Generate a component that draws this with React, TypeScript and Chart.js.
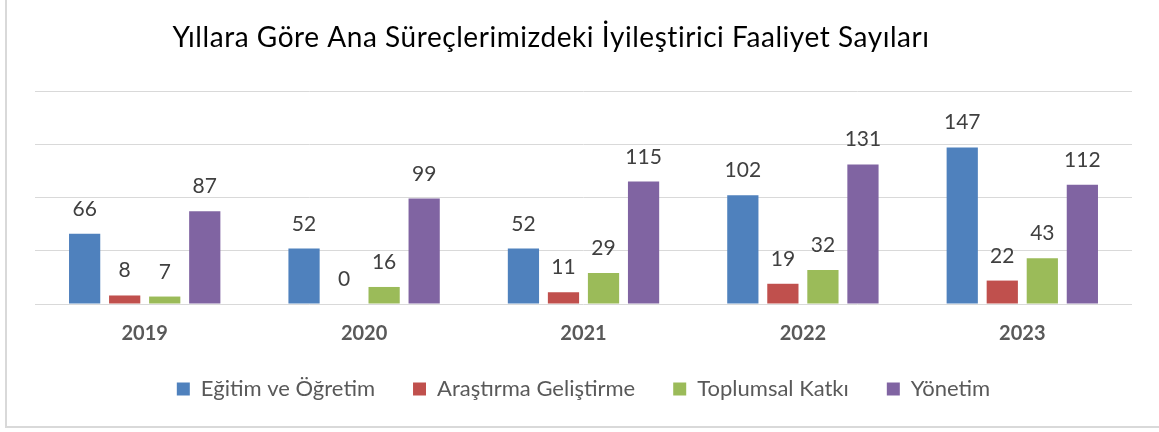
import React, { useEffect, useRef } from "react";
import { Chart, registerables } from "chart.js";

Chart.register(...registerables);

const categories = ["2019", "2020", "2021", "2022", "2023"];
const seriesNames = ["Eğitim ve Öğretim", "Araştırma Geliştirme", "Toplumsal Katkı", "Yönetim"];
const egitim = [66, 52, 52, 102, 147];
const arastirma = [8, 0, 11, 19, 22];
const toplumsal = [7, 16, 29, 32, 43];
const yonetim = [87, 99, 115, 131, 112];
const seriesColors = ["#4F81BD", "#C0504D", "#9BBB59", "#8064A2"];
const chartTitle = "Yıllara Göre Ana Süreçlerimizdeki İyileştirici Faaliyet Sayıları";

const FONT = "Lato";

const titlePlugin = {
  id: "customTitle",
  afterDraw(chart: any) {
    const ctx = chart.ctx;
    ctx.save();
    ctx.font = `28px ${FONT}`;
    try {
      (ctx as any).letterSpacing = "0.55px";
    } catch (e) {}
    ctx.fillStyle = "#000000";
    ctx.textAlign = "center";
    ctx.textBaseline = "alphabetic";
    ctx.fillText(chartTitle, 551, 47);
    ctx.restore();
  },
};

const valueLabelPlugin = {
  id: "valueLabels",
  afterDatasetsDraw(chart: any) {
    const ctx = chart.ctx;
    ctx.save();
    ctx.font = `21px ${FONT}`;
    ctx.fillStyle = "#404040";
    ctx.textAlign = "center";
    ctx.textBaseline = "alphabetic";
    chart.data.datasets.forEach((ds: any, i: number) => {
      const meta = chart.getDatasetMeta(i);
      meta.data.forEach((el: any, j: number) => {
        ctx.fillText(String(ds.data[j]), el.x, el.y - 18);
      });
    });
    ctx.restore();
  },
};

export default function App() {
  const ref = useRef<HTMLCanvasElement | null>(null);
  useEffect(() => {
    if (!ref.current) return;
    const values = [egitim, arastirma, toplumsal, yonetim];
    const chart = new Chart(ref.current, {
      type: "bar",
      data: {
        labels: categories,
        datasets: seriesNames.map((name, i) => ({
          label: name,
          data: values[i],
          backgroundColor: seriesColors[i],
          borderWidth: 0,
          categoryPercentage: 0.73,
          barPercentage: 0.78,
        })),
      },
      options: {
        responsive: false,
        animation: false,
        layout: { padding: { left: 35, right: 27, top: 91, bottom: 22 } },
        scales: {
          x: {
            grid: { display: false, drawTicks: false },
            border: { display: false },
            ticks: {
              font: { family: FONT, size: 20, weight: "bold" },
              color: "#595959",
              padding: 18,
            },
            afterFit: (s: any) => {
              s.height = 36;
            },
          },
          y: {
            min: 0,
            max: 200,
            ticks: { display: false, stepSize: 50 },
            grid: { color: "#d9d9d9", lineWidth: 1, drawTicks: false },
            border: { display: false },
          },
        },
        plugins: {
          legend: {
            position: "bottom",
            labels: {
              boxWidth: 13,
              boxHeight: 13,
              font: { family: FONT, size: 22 },
              color: "#595959",
              padding: 38,
            },
          },
          title: { display: false },
          tooltip: { enabled: false },
        },
      },
      plugins: [titlePlugin, valueLabelPlugin],
    } as any);
    return () => chart.destroy();
  }, []);

  return (
    <div style={{ position: "fixed", left: 0, top: 0, width: 1159, height: 432, background: "#ffffff", overflow: "hidden" }}>
      <div
        style={{
          position: "absolute",
          left: 5,
          top: -5,
          width: 1160,
          height: 431,
          borderLeft: "2px solid #d9d9d9",
          borderBottom: "2px solid #d9d9d9",
        }}
      />
      <canvas ref={ref} width={1159} height={432} style={{ position: "absolute", left: 0, top: 0 }} />
    </div>
  );
}
